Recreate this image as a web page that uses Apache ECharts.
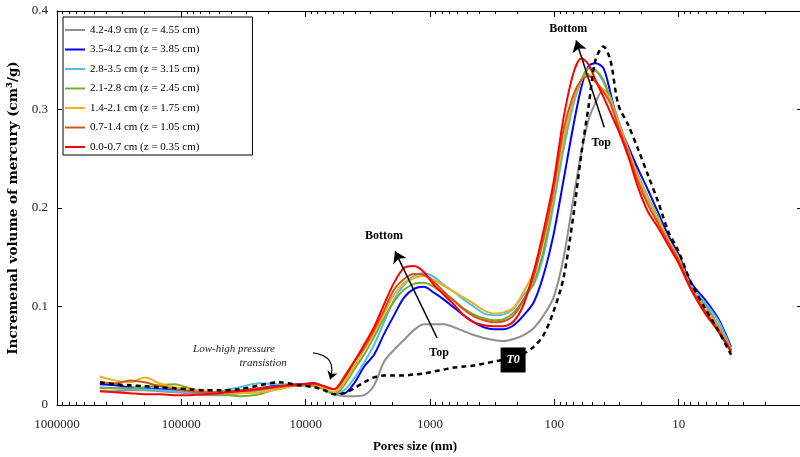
<!DOCTYPE html>
<html>
<head>
<meta charset="utf-8">
<title>Incremental mercury intrusion</title>
<script src="https://cdn.jsdelivr.net/npm/echarts@6/dist/echarts.min.js"></script>
<style>
    html, body { margin: 0; padding: 0; background: #fff; }
    #main { width: 800px; height: 457px; }
</style>
</head>
<body>
<div id="main"></div>
<script>
// pore diameters (nm), shared by every curve
var poreSize = [452000, 342700, 259800, 197000, 149300, 113200, 85800, 65050, 49300, 34080,
    23560, 16280, 11250, 8530, 7094, 5896, 4901, 4077, 3390, 2818,
    2343, 1948, 1619, 1346, 1119, 930.4, 773.6, 643.3, 534.8, 444.6,
    369.6, 307.3, 255.5, 212.4, 176.6, 146.8, 122.1, 101.5, 84.4, 70.2,
    60.5, 53.2, 46.7, 40.3, 35.4, 30.6, 25.4, 21.1, 17.6, 14.6,
    12.1, 10.1, 7.94, 6.13, 4.82, 3.79];

var z455 = [0.014, 0.014, 0.015, 0.015, 0.014, 0.013, 0.012, 0.010, 0.010, 0.012,
    0.015, 0.018, 0.020, 0.019, 0.016, 0.011, 0.009, 0.009, 0.010, 0.020,
    0.044, 0.056, 0.066, 0.076, 0.082, 0.082, 0.082, 0.079, 0.075, 0.071,
    0.068, 0.066, 0.065, 0.067, 0.071, 0.078, 0.091, 0.109, 0.149, 0.210,
    0.257, 0.289, 0.307, 0.320, 0.313, 0.289, 0.261, 0.233, 0.210, 0.188,
    0.171, 0.154, 0.120, 0.102, 0.081, 0.056];
var z385 = [0.021, 0.020, 0.018, 0.017, 0.016, 0.015, 0.014, 0.012, 0.012, 0.014,
    0.017, 0.020, 0.021, 0.022, 0.018, 0.012, 0.012, 0.022, 0.039, 0.051,
    0.072, 0.091, 0.109, 0.118, 0.120, 0.114, 0.107, 0.099, 0.091, 0.084,
    0.079, 0.077, 0.077, 0.081, 0.091, 0.104, 0.132, 0.173, 0.228, 0.284,
    0.323, 0.344, 0.347, 0.342, 0.317, 0.284, 0.262, 0.239, 0.218, 0.195,
    0.172, 0.154, 0.124, 0.107, 0.088, 0.059];
var z315 = [0.018, 0.017, 0.016, 0.016, 0.015, 0.014, 0.013, 0.012, 0.014, 0.018,
    0.022, 0.021, 0.020, 0.020, 0.017, 0.012, 0.015, 0.027, 0.043, 0.061,
    0.084, 0.107, 0.122, 0.131, 0.134, 0.130, 0.122, 0.115, 0.107, 0.100,
    0.093, 0.091, 0.092, 0.098, 0.112, 0.122, 0.152, 0.203, 0.259, 0.305,
    0.330, 0.342, 0.340, 0.328, 0.313, 0.287, 0.259, 0.232, 0.211, 0.191,
    0.167, 0.151, 0.121, 0.104, 0.086, 0.057];
var z245 = [0.017, 0.017, 0.017, 0.018, 0.020, 0.021, 0.017, 0.013, 0.011, 0.009,
    0.011, 0.017, 0.020, 0.020, 0.016, 0.011, 0.020, 0.036, 0.051, 0.069,
    0.088, 0.105, 0.117, 0.123, 0.124, 0.120, 0.113, 0.106, 0.098, 0.092,
    0.088, 0.086, 0.087, 0.094, 0.107, 0.124, 0.157, 0.210, 0.266, 0.310,
    0.330, 0.342, 0.340, 0.330, 0.310, 0.284, 0.257, 0.230, 0.208, 0.188,
    0.167, 0.150, 0.119, 0.098, 0.080, 0.056];
var z175 = [0.029, 0.025, 0.023, 0.028, 0.022, 0.018, 0.016, 0.014, 0.012, 0.012,
    0.013, 0.016, 0.020, 0.020, 0.017, 0.013, 0.023, 0.039, 0.056, 0.073,
    0.093, 0.112, 0.124, 0.129, 0.131, 0.127, 0.121, 0.115, 0.109, 0.103,
    0.096, 0.093, 0.094, 0.099, 0.115, 0.135, 0.167, 0.213, 0.269, 0.310,
    0.330, 0.336, 0.328, 0.320, 0.310, 0.286, 0.259, 0.231, 0.209, 0.189,
    0.168, 0.150, 0.119, 0.098, 0.079, 0.056];
var z105 = [0.023, 0.022, 0.025, 0.023, 0.019, 0.016, 0.014, 0.013, 0.013, 0.015,
    0.017, 0.019, 0.020, 0.021, 0.019, 0.016, 0.029, 0.044, 0.058, 0.076,
    0.096, 0.117, 0.128, 0.133, 0.132, 0.125, 0.115, 0.106, 0.097, 0.090,
    0.086, 0.084, 0.085, 0.091, 0.107, 0.130, 0.170, 0.218, 0.279, 0.315,
    0.330, 0.334, 0.328, 0.318, 0.306, 0.283, 0.256, 0.226, 0.203, 0.184,
    0.165, 0.148, 0.118, 0.095, 0.077, 0.055];
var z035 = [0.014, 0.013, 0.012, 0.011, 0.011, 0.010, 0.010, 0.011, 0.012, 0.014,
    0.016, 0.019, 0.021, 0.022, 0.019, 0.016, 0.027, 0.044, 0.061, 0.079,
    0.102, 0.124, 0.139, 0.141, 0.135, 0.122, 0.112, 0.102, 0.091, 0.084,
    0.081, 0.080, 0.080, 0.085, 0.102, 0.135, 0.177, 0.226, 0.291, 0.337,
    0.352, 0.346, 0.330, 0.313, 0.297, 0.279, 0.252, 0.220, 0.196, 0.180,
    0.162, 0.145, 0.117, 0.093, 0.075, 0.054];
var t0 = [0.023, 0.021, 0.020, 0.019, 0.018, 0.017, 0.016, 0.015, 0.015, 0.016,
    0.020, 0.023, 0.020, 0.018, 0.015, 0.011, 0.012, 0.017, 0.023, 0.028,
    0.030, 0.030, 0.030, 0.031, 0.032, 0.034, 0.036, 0.038, 0.039, 0.040,
    0.042, 0.044, 0.046, 0.048, 0.052, 0.059, 0.071, 0.095, 0.129, 0.193,
    0.256, 0.302, 0.350, 0.364, 0.350, 0.305, 0.284, 0.259, 0.233, 0.206,
    0.176, 0.157, 0.124, 0.098, 0.076, 0.051];

var seriesNames = ['4.2-4.9 cm (z = 4.55 cm)', '3.5-4.2 cm (z = 3.85 cm)', '2.8-3.5 cm (z = 3.15 cm)',
    '2.1-2.8 cm (z = 2.45 cm)', '1.4-2.1 cm (z = 1.75 cm)', '0.7-1.4 cm (z = 1.05 cm)', '0.0-0.7 cm (z = 0.35 cm)'];
var seriesValues = [z455, z385, z315, z245, z175, z105, z035];
var seriesColors = ['#8f8f8f', '#0000ff', '#4dbeee', '#77ac30', '#edb120', '#d95319', '#ff0000'];

var majorTicks = [1000000, 100000, 10000, 1000, 100, 10, 1];
var xLabels = [1000000, 100000, 10000, 1000, 100, 10];
var minorTicks = [];
for (var k = 0; k < 6; k++) {
    for (var m = 2; m < 10; m++) {
        minorTicks.push(m * Math.pow(10, k));
    }
}

// annotation anchors in data units [nm, cm3/g]
var arrowLow = [[877, 0.068], [1910, 0.156]];
var arrowHigh = [[39.7, 0.282], [66.8, 0.370]];
var arrowTransition = [[8710, 0.053], [6360, 0.026]];
var textMarks = [
    ['Bottom', 2340, 0.1716], ['Top', 845, 0.0528],
    ['Bottom', 77.4, 0.3817], ['Top', 42.0, 0.266]
];
var t0Mark = [214.6, 0.0457];
var transitionText = [['Low-high pressure', 37700, 0.0569], ['transistion', 22000, 0.0426]];

var serif = 'Liberation Serif';

function pairs(vals) {
    var out = [];
    for (var i = 0; i < poreSize.length; i++) out.push([poreSize[i], vals[i]]);
    return out;
}

function xAxisDef(pos, ticks, len, withLine, withLabel) {
    return {
        type: 'log', logBase: 10, min: 1, max: 1000000, inverse: true, position: pos,
        axisLine: {show: withLine, onZero: false, lineStyle: {color: '#000', width: 1}},
        axisTick: {show: true, inside: true, length: len, customValues: ticks, lineStyle: {color: '#000', width: 1}},
        axisLabel: withLabel ? {
            show: true, customValues: xLabels, margin: 13,
            fontFamily: serif, fontSize: 13, color: '#222',
            formatter: function (v) { return String(Math.round(v)); }
        } : {show: false},
        splitLine: {show: false},
        minorTick: {show: false}
    };
}

var xAxes = [
    xAxisDef('bottom', majorTicks, 6, true, true),
    xAxisDef('bottom', minorTicks, 3, false, false),
    xAxisDef('top', majorTicks, 6, true, false),
    xAxisDef('top', minorTicks, 3, false, false)
];
xAxes[0].name = 'Pores size (nm)';
xAxes[0].nameLocation = 'middle';
xAxes[0].nameGap = 35;
xAxes[0].nameTextStyle = {fontFamily: serif, fontSize: 13, fontWeight: 'bold', color: '#000', padding: [0, 30, 0, 0]};

var series = [];
for (var s = 0; s < seriesNames.length; s++) {
    series.push({
        name: seriesNames[s], type: 'line', data: pairs(seriesValues[s]),
        smooth: 0.3, symbol: 'none',
        lineStyle: {color: seriesColors[s], width: 2},
        itemStyle: {color: seriesColors[s]}
    });
}

var labelItems = [];
textMarks.forEach(function (t) {
    labelItems.push({
        coord: [t[1], t[2]], symbol: 'rect', symbolSize: 1, itemStyle: {color: 'rgba(0,0,0,0)'},
        label: {show: true, position: 'inside', formatter: t[0], fontFamily: serif, fontSize: 12, fontWeight: 'bold', color: '#000'}
    });
});
transitionText.forEach(function (t) {
    labelItems.push({
        coord: [t[1], t[2]], symbol: 'rect', symbolSize: 1, itemStyle: {color: 'rgba(0,0,0,0)'},
        label: {show: true, position: 'inside', formatter: t[0], fontFamily: serif, fontSize: 11, fontStyle: 'italic', color: '#222'}
    });
});
labelItems.push({
    coord: t0Mark, symbol: 'rect', symbolSize: [25, 25], itemStyle: {color: '#000'},
    label: {show: true, position: 'inside', formatter: 'T0', fontFamily: serif, fontSize: 12, fontWeight: 'bold', fontStyle: 'italic', color: '#fff'}
});

series.push({
    name: 'T0', type: 'line', data: pairs(t0), smooth: 0.3, symbol: 'none', z: 3,
    lineStyle: {color: '#000', width: 2.5, type: [5, 4]},
    itemStyle: {color: '#000'},
    markLine: {
        silent: true, symbol: ['none', 'arrow'], symbolSize: 11,
        label: {show: false},
        lineStyle: {color: '#000', width: 1.5, type: 'solid'},
        data: [
            [{coord: arrowLow[0]}, {coord: arrowLow[1]}],
            [{coord: arrowHigh[0]}, {coord: arrowHigh[1]}]
        ]
    },
    markPoint: {silent: true, data: labelItems}
});

// curved "low-high pressure" arrow
series.push({
    name: 'transition', type: 'lines', coordinateSystem: 'cartesian2d',
    xAxisIndex: 0, yAxisIndex: 0, silent: true, z: 4,
    symbol: ['none', 'arrow'], symbolSize: 8,
    lineStyle: {color: '#000', width: 1.2, curveness: 0.6, opacity: 1},
    data: [{coords: arrowTransition}]
});

var myChart = echarts.init(document.getElementById('main'));
myChart.setOption({
    animation: false,
    backgroundColor: '#fff',
    grid: {left: 57, right: -3, top: 11, bottom: 52, outerBoundsMode: 'none', containLabel: false},
    legend: {
        data: seriesNames, orient: 'vertical', left: 63, top: 17,
        icon: 'rect', itemWidth: 20, itemHeight: 2, itemGap: 5.5,
        padding: [6, 53, 1, 2],
        borderColor: '#000', borderWidth: 1, backgroundColor: '#fff',
        textStyle: {fontFamily: serif, fontSize: 11, color: '#000', lineHeight: 14}
    },
    xAxis: xAxes,
    yAxis: [{
        type: 'value', min: 0, max: 0.4, interval: 0.1, position: 'left',
        axisLine: {show: true, onZero: false, lineStyle: {color: '#000', width: 1}},
        axisTick: {show: true, inside: true, length: 5, lineStyle: {color: '#000'}},
        axisLabel: {
            margin: 9, fontFamily: serif, fontSize: 13, color: '#222',
            formatter: function (v) { return v === 0 ? '0' : v.toFixed(1); }
        },
        splitLine: {show: false},
        name: 'Incremenal volume of mercury (cm³/g)',
        nameLocation: 'middle', nameGap: 30,
        nameTextStyle: {fontFamily: 'DejaVu Serif', fontSize: 13.5, fontWeight: 'bold', color: '#000'}
    }, {
        type: 'value', min: 0, max: 0.4, interval: 0.1, position: 'right',
        axisLine: {show: true, onZero: false, lineStyle: {color: '#000', width: 1}},
        axisTick: {show: true, inside: true, length: 6, lineStyle: {color: '#000'}},
        axisLabel: {show: false},
        splitLine: {show: false}
    }],
    series: series
});
</script>
</body>
</html>
